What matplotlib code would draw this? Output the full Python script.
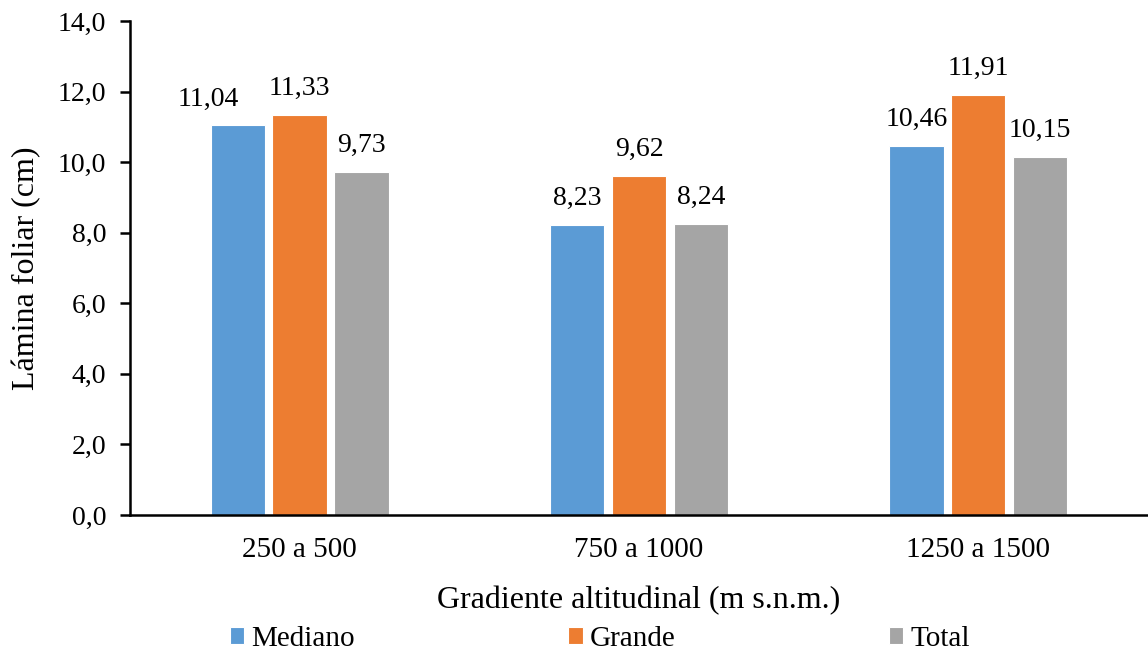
import numpy as np
import matplotlib.pyplot as plt

plt.rcParams['font.family'] = ['Liberation Serif', 'DejaVu Serif']

categorias = ['250 a 500', '750 a 1000', '1250 a 1500']
mediano = [11.04, 8.23, 10.46]
grande = [11.33, 9.62, 11.91]
total = [9.73, 8.24, 10.15]

series = [('Mediano', mediano, '#5B9BD5'),
          ('Grande', grande, '#ED7D31'),
          ('Total', total, '#A5A5A5')]

fig = plt.figure(figsize=(11.48, 6.52), dpi=100)
ax = fig.add_axes([0.1132, 0.2101, 0.8868, 0.7577])

x = np.arange(len(categorias))
ancho = 0.16
paso = 0.182

# etiquetas que chocan con la vecina se corren a la izquierda (en puntos)
corrimiento = {(0, 0): -21}

for i, (nombre, valores, color) in enumerate(series):
    pos = x + (i - 1) * paso
    barras = ax.bar(pos, valores, ancho, color=color, edgecolor='white',
                    linewidth=0.8, label=nombre)
    for j, (b, v) in enumerate(zip(barras, valores)):
        dx = corrimiento.get((i, j), 0)
        ax.annotate(f'{v:.2f}'.replace('.', ','),
                    (b.get_x() + b.get_width() / 2, v),
                    xytext=(dx, 10), textcoords='offset points',
                    ha='center', va='bottom', fontsize=20)

ax.set_xlim(-0.5, 2.5)
ax.set_ylim(0, 14)
ax.set_yticks(np.arange(0, 15, 2))
ax.set_yticklabels([f'{t:.1f}'.replace('.', ',') for t in np.arange(0, 15, 2)])
ax.set_xticks(x)
ax.set_xticklabels(categorias)

ax.spines['top'].set_visible(False)
ax.spines['right'].set_visible(False)
ax.spines['left'].set_linewidth(1.8)
ax.spines['bottom'].set_linewidth(1.8)
ax.tick_params(axis='y', direction='out', length=7, width=1.8, labelsize=20, pad=10)
ax.tick_params(axis='x', length=0, labelsize=21, pad=16)

ax.set_ylabel('Lámina foliar (cm)', fontsize=23, labelpad=12)
ax.set_xlabel('Gradiente altitudinal (m s.n.m.)', fontsize=23, labelpad=16)

fig.legend(loc='center', bbox_to_anchor=(0.5226, 0.02), ncol=3,
           frameon=False, prop={'family': 'Liberation Serif', 'size': 21},
           handlelength=0.5, handleheight=0.5,
           handletextpad=0.25, columnspacing=7.3)

fig.savefig('out.png', dpi=100)
